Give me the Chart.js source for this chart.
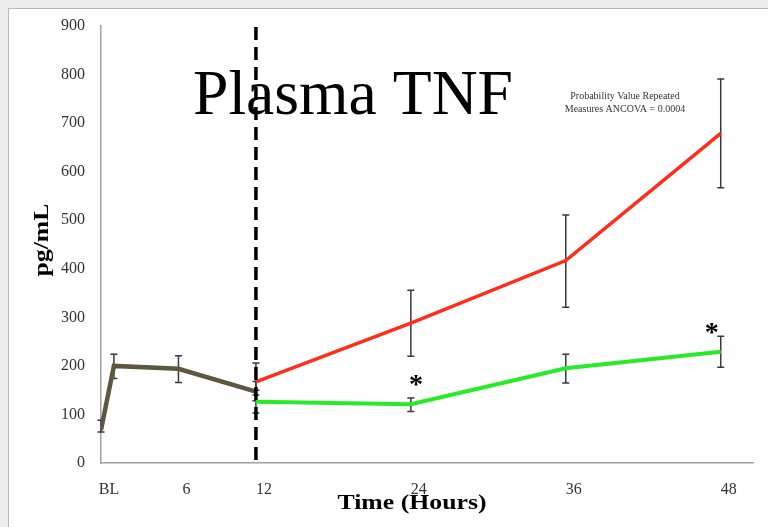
<!DOCTYPE html>
<html>
<head>
<meta charset="utf-8">
<script src="https://cdn.jsdelivr.net/npm/chart.js@4.4.0/dist/chart.umd.min.js"></script>
<style>
  html, body { margin: 0; padding: 0; background: #ececec; }
  #wrap { position: relative; width: 768px; height: 527px; overflow: hidden; }
  #frame { position: absolute; left: 8px; top: 8px; width: 800px; height: 600px; background: #fff; border: 1px solid #b8b8b8; }
  #myChart { position: absolute; left: 0; top: 0; }
</style>
</head>
<body>
<div id="wrap"><div id="frame"></div><canvas id="myChart" width="768" height="527"></canvas></div>
<script>
// baseline period (BL to 12 h)
const hours = [0, 1, 6, 12];
const baseline = [68, 200, 194, 147];
const baseLow = [64, 174, 166, 128];
const baseHigh = [88, 224, 221, 168];

// after 12 h, two groups
const hoursAfter = [12, 24, 36, 48];
const red = [167, 288, 417, 679];
const redLow = [140, 220, 321, 567];
const redHigh = [206, 356, 511, 791];
const green = [126, 121, 195, 229];
const greenLow = [103, 106, 165, 197];
const greenHigh = [150, 134, 224, 261];

const xTicks = [0, 6, 12, 24, 36, 48];
const xTickLabels = ['BL', '6', '12', '24', '36', '48'];
const starHours = [24.4, 47.3];
const starValues = [172, 280];
const dividerHour = 12;

const pts = (xs, ys) => xs.map((x, i) => ({x: x, y: ys[i]}));

// draws text squeezed/stretched to a given width
function fitText(ctx, text, cx, cy, width) {
    const w = ctx.measureText(text).width;
    ctx.save();
    ctx.translate(cx, cy);
    ctx.scale(width / w, 1);
    ctx.fillText(text, 0, 0);
    ctx.restore();
}

const errorBars = {
    id: 'errorBars',
    beforeDatasetsDraw(chart) {
        const {ctx, scales: {x, y}} = chart;
        ctx.save();
        ctx.strokeStyle = '#3a3a3a';
        ctx.lineWidth = 1.5;
        chart.data.datasets.forEach(ds => {
            ds.data.forEach((p, i) => {
                const px = x.getPixelForValue(p.x);
                const top = y.getPixelForValue(ds.errHigh[i]);
                const bot = y.getPixelForValue(ds.errLow[i]);
                ctx.beginPath();
                ctx.moveTo(px, top); ctx.lineTo(px, bot);
                ctx.moveTo(px - 3.5, top); ctx.lineTo(px + 3.5, top);
                ctx.moveTo(px - 3.5, bot); ctx.lineTo(px + 3.5, bot);
                ctx.stroke();
            });
        });
        ctx.restore();
    }
};

const extras = {
    id: 'extras',
    afterDraw(chart) {
        const {ctx, scales: {x, y}} = chart;
        ctx.save();
        // dashed divider at 12 h
        const dx = x.getPixelForValue(dividerHour);
        ctx.strokeStyle = '#000';
        ctx.lineWidth = 3.5;
        ctx.setLineDash([13, 7]);
        ctx.beginPath();
        ctx.moveTo(dx, y.getPixelForValue(898));
        ctx.lineTo(dx, y.getPixelForValue(6));
        ctx.stroke();
        ctx.setLineDash([]);

        ctx.fillStyle = '#000';
        ctx.textAlign = 'center';
        ctx.textBaseline = 'alphabetic';
        ctx.font = '64px "Liberation Serif"';
        fitText(ctx, 'Plasma TNF', 353, 114, 320);

        ctx.fillStyle = '#333';
        ctx.font = '10px "Liberation Serif"';
        ctx.fillText('Probability Value Repeated', 625, 99);
        ctx.fillText('Measures ANCOVA = 0.0004', 625, 112);

        // axis titles
        ctx.fillStyle = '#000';
        ctx.font = 'bold 20px "Liberation Serif"';
        fitText(ctx, 'Time (Hours)', 412, 509, 149);
        ctx.save();
        ctx.translate(48, 240);
        ctx.rotate(-Math.PI / 2);
        fitText(ctx, 'pg/mL', 0, 0, 73);
        ctx.restore();

        ctx.font = 'bold 28px "Liberation Serif"';
        starHours.forEach((h, i) => {
            ctx.fillText('*', x.getPixelForValue(h), y.getPixelForValue(starValues[i]) + 14);
        });
        ctx.restore();
    }
};

const ctx = document.getElementById('myChart').getContext('2d');
const myChart = new Chart(ctx, {
    type: 'scatter',
    data: {
        datasets: [{
            data: pts(hours, baseline),
            errLow: baseLow, errHigh: baseHigh,
            showLine: true,
            borderColor: 'rgb(92, 87, 62)',
            borderWidth: 4.5,
            pointRadius: 0
        }, {
            data: pts(hoursAfter, red),
            errLow: redLow, errHigh: redHigh,
            showLine: true,
            borderColor: 'rgb(255, 45, 25)',
            borderWidth: 3.5,
            pointRadius: 0
        }, {
            data: pts(hoursAfter, green),
            errLow: greenLow, errHigh: greenHigh,
            showLine: true,
            borderColor: 'rgb(40, 235, 40)',
            borderWidth: 4,
            pointRadius: 0
        }]
    },
    plugins: [errorBars, extras],
    options: {
        responsive: false,
        animation: false,
        devicePixelRatio: 1,
        layout: { padding: { top: 26, right: 15, left: 0, bottom: 0 } },
        plugins: {
            legend: { display: false },
            tooltip: { enabled: false }
        },
        scales: {
            x: {
                type: 'linear',
                min: 0,
                max: 50.5,
                afterBuildTicks: scale => { scale.ticks = xTicks.map(v => ({value: v})); },
                afterFit: scale => { scale.height = 64; },
                grid: { display: false },
                border: { color: '#a0a0a0', width: 1.5 },
                ticks: {
                    callback: (v, i) => xTickLabels[i],
                    font: { family: 'Liberation Serif', size: 16 },
                    color: '#333',
                    padding: 9,
                    labelOffset: 8,
                    maxRotation: 0
                }
            },
            y: {
                min: 0,
                max: 900,
                afterFit: scale => { scale.width = 101; },
                grid: { display: false },
                border: { color: '#a0a0a0', width: 1.5 },
                ticks: {
                    stepSize: 100,
                    font: { family: 'Liberation Serif', size: 16 },
                    color: '#333',
                    padding: 8
                }
            }
        }
    }
});
</script>
</body>
</html>
